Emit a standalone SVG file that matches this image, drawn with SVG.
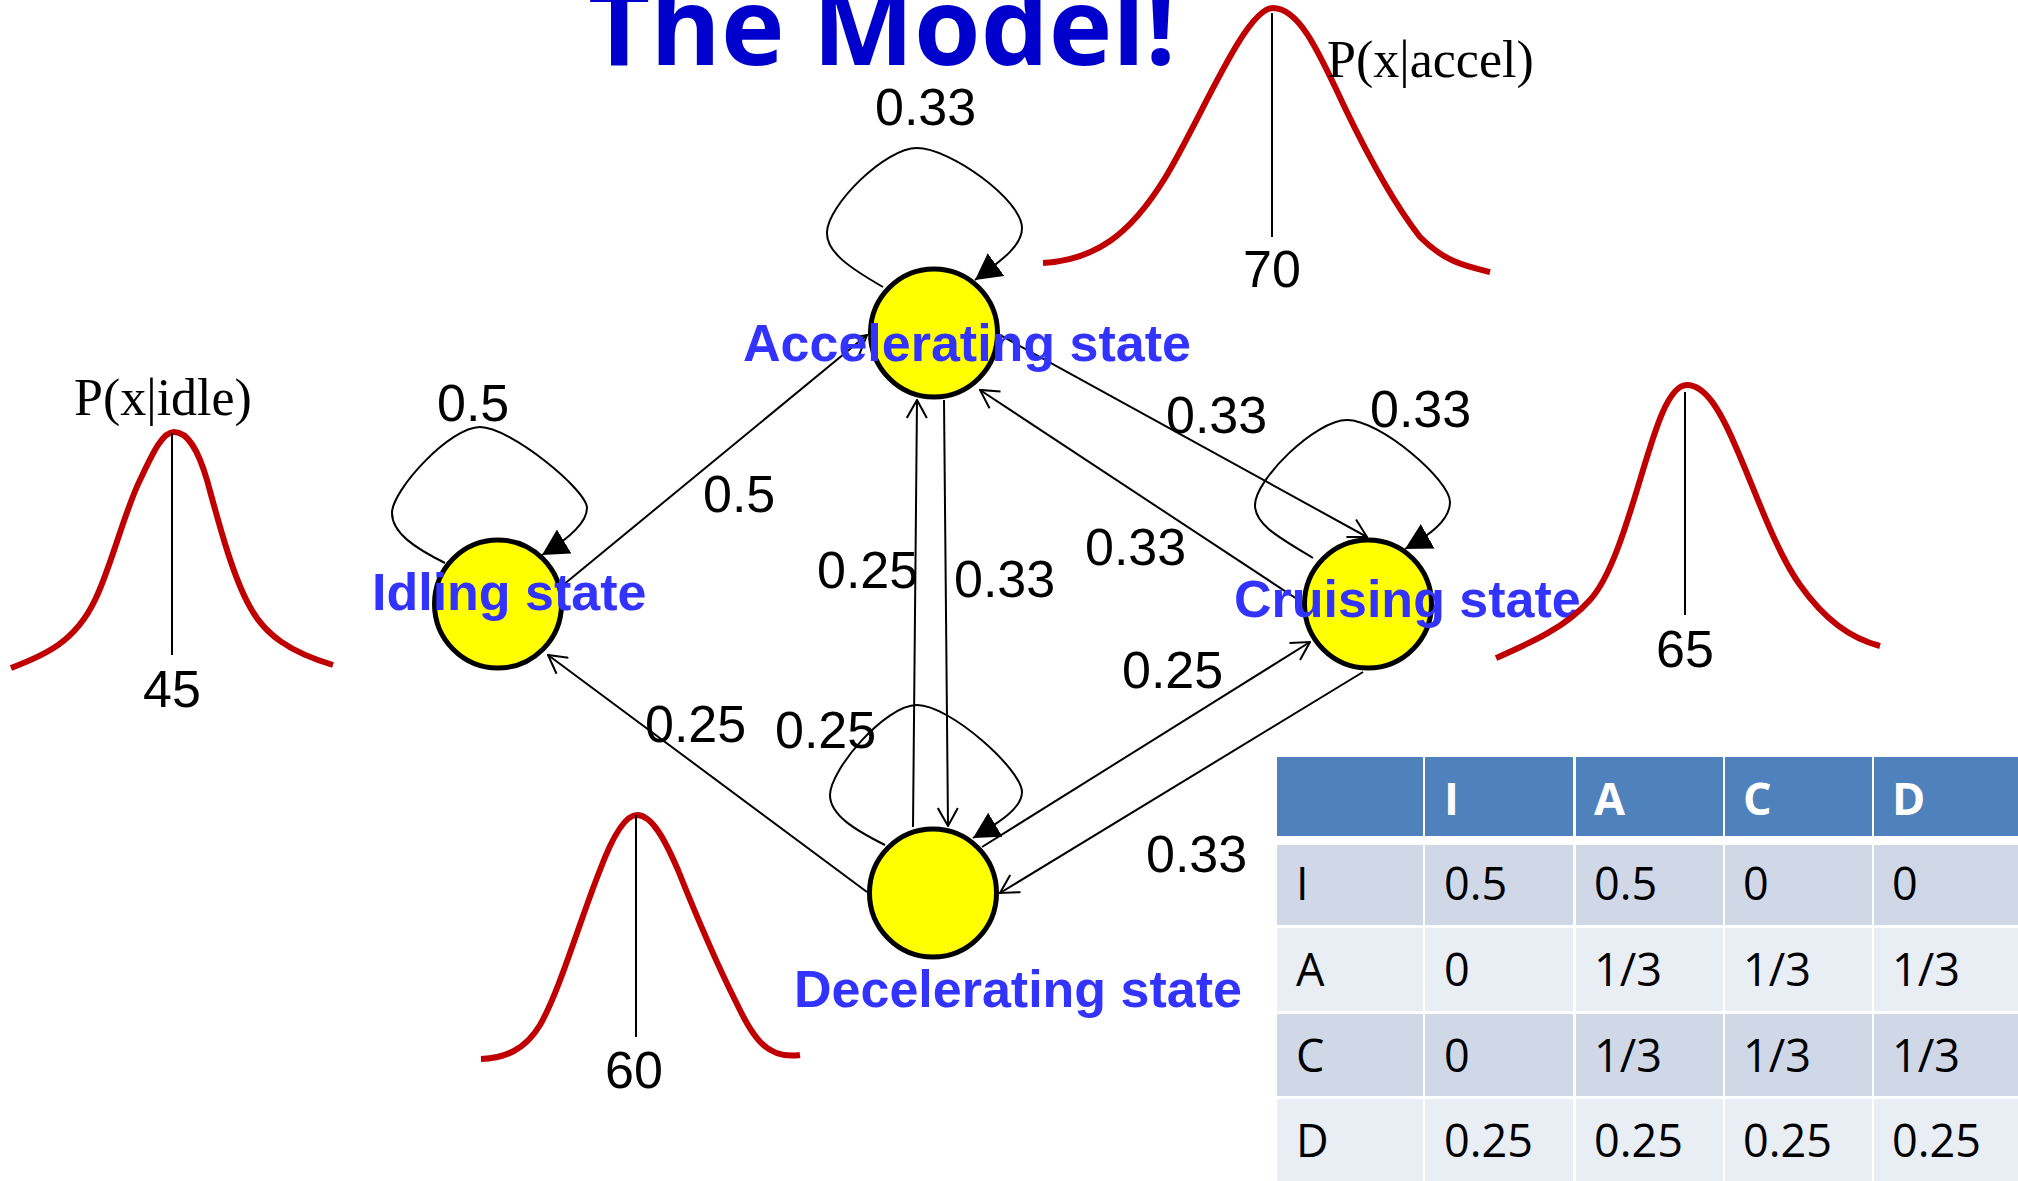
<svg xmlns="http://www.w3.org/2000/svg" width="2018" height="1181" viewBox="0 0 2018 1181">
<style>
.title{font-family:"Open Sans","Liberation Sans",sans-serif;font-weight:700;font-size:108px;fill:#0000CC}
.state{fill:#FFFF00;stroke:#000;stroke-width:5}
.slabel{font-family:"Liberation Sans",Arial,sans-serif;font-weight:700;font-size:52px;fill:#3333FF}
.elabel{font-family:"Liberation Sans",Arial,sans-serif;font-size:52px;fill:#000}
.edge{fill:none;stroke:#000;stroke-width:2}
.gauss{fill:none;stroke:#C00000;stroke-width:6}
.mean{stroke:#000;stroke-width:2}
.pdf{font-family:"Liberation Serif","Times New Roman",serif;font-size:52px;fill:#000}
.num{font-family:"Liberation Sans",Arial,sans-serif;font-size:52px;fill:#000;text-anchor:middle}
.th{fill:#4F81BD}
.r1{fill:#D0D8E8}
.r2{fill:#E9EDF4}
.tht{font-family:"Open Sans","Liberation Sans",sans-serif;font-weight:700;font-size:45px;fill:#fff}
.td{font-family:"Open Sans","Liberation Sans",sans-serif;font-size:45px;fill:#000}
</style>
<defs>
<marker id="open" viewBox="0 0 20 22" refX="19" refY="11" markerWidth="20" markerHeight="22" markerUnits="userSpaceOnUse" orient="auto">
<path d="M1,1 L19,11 L1,21" fill="none" stroke="#000" stroke-width="2"/>
</marker>
<marker id="solid" viewBox="0 0 26 28" refX="26" refY="14" markerWidth="26" markerHeight="28" markerUnits="userSpaceOnUse" orient="auto">
<path d="M0,0 L26,14 L0,28 Z" fill="#000"/>
</marker>
</defs>
<rect width="2018" height="1181" fill="#fff"/>
<text class="title" x="588" y="65" textLength="588" lengthAdjust="spacingAndGlyphs">The Model!</text>

<g id="connectors">
<path class="edge" marker-end="url(#solid)" d="M883,287 C850,268 826,252 827,232 C828,205 885,148 917,148 C950,148 1022,200 1022,228 C1022,245 1005,258 975,280"/>
<path class="edge" marker-end="url(#solid)" d="M445,563 C415,548 392,533 392,513 C392,490 450,427 480,427 C510,427 587,490 587,508 C587,522 570,538 542,555"/>
<path class="edge" marker-end="url(#solid)" d="M1313,558 C1280,538 1255,525 1255,505 C1255,480 1315,420 1347,420 C1380,420 1450,480 1450,502 C1450,520 1430,535 1405,549"/>
<path class="edge" marker-end="url(#solid)" d="M885,845 C855,830 830,815 830,795 C830,770 885,705 917,705 C950,705 1022,770 1022,792 C1022,808 1000,822 973,838"/>
<line class="edge" marker-end="url(#open)" x1="557" y1="590" x2="867" y2="335"/>
<line class="edge" marker-end="url(#open)" x1="1000" y1="335" x2="1367" y2="537"/>
<line class="edge" marker-end="url(#open)" x1="1303" y1="603" x2="980" y2="390"/>
<line class="edge" marker-end="url(#open)" x1="913" y1="827" x2="917" y2="400"/>
<line class="edge" marker-end="url(#open)" x1="944" y1="400" x2="948" y2="826"/>
<line class="edge" marker-end="url(#open)" x1="867" y1="892" x2="548" y2="655"/>
<line class="edge" marker-end="url(#open)" x1="982" y1="847" x2="1310" y2="642"/>
<line class="edge" marker-end="url(#open)" x1="1363" y1="672" x2="1000" y2="893"/>
<g id="edge-labels">
<text class="elabel" x="875" y="125">0.33</text>
<text class="elabel" x="437" y="421">0.5</text>
<text class="elabel" x="703" y="512">0.5</text>
<text class="elabel" x="1166" y="433">0.33</text>
<text class="elabel" x="1370" y="427">0.33</text>
<text class="elabel" x="817" y="588">0.25</text>
<text class="elabel" x="954" y="597">0.33</text>
<text class="elabel" x="1085" y="565">0.33</text>
<text class="elabel" x="1122" y="688">0.25</text>
<text class="elabel" x="645" y="742">0.25</text>
<text class="elabel" x="775" y="748">0.25</text>
<text class="elabel" x="1146" y="872">0.33</text>
</g>
</g>

<g id="node-accelerating">
<ellipse class="state" cx="934" cy="333" rx="63.5" ry="64"/>
<text class="slabel" x="743" y="361">Accelerating state</text>
</g>
<g id="node-idling">
<ellipse class="state" cx="498" cy="604" rx="63.5" ry="64"/>
<text class="slabel" x="372" y="610">Idling state</text>
</g>
<g id="node-cruising">
<ellipse class="state" cx="1368" cy="604" rx="63.5" ry="64"/>
<text class="slabel" x="1234" y="617">Cruising state</text>
</g>
<g id="node-decelerating">
<ellipse class="state" cx="933" cy="893" rx="63.5" ry="64"/>
<text class="slabel" x="794" y="1007">Decelerating state</text>
</g>

<g id="emission-accel">
<path class="gauss" d="M1043,263 C1095,260 1130,235 1165,178 C1200,121 1245,8 1273,8 C1300,8 1320,55 1345,108 C1370,160 1395,205 1420,237 C1445,262 1465,266 1490,272"/>
<line class="mean" x1="1272" y1="13" x2="1272" y2="237"/>
<text class="num" x="1272" y="287">70</text>
<text class="pdf" x="1327" y="77">P(x|accel)</text>
</g>
<g id="emission-idle">
<path class="gauss" d="M11,668 C45,655 75,642 95,600 C110,570 125,510 140,480 C152,455 162,432 174,432 C188,432 198,450 207,480 C218,520 232,575 250,607 C265,635 290,652 333,665"/>
<line class="mean" x1="172" y1="433" x2="172" y2="655"/>
<text class="num" x="172" y="707">45</text>
<text class="pdf" x="74" y="415">P(x|idle)</text>
</g>
<g id="emission-cruise">
<path class="gauss" d="M1496,658 C1530,643 1565,628 1590,600 C1610,578 1625,530 1640,480 C1655,430 1668,385 1687,385 C1705,385 1720,410 1735,445 C1755,490 1775,550 1800,585 C1825,620 1850,638 1880,646"/>
<line class="mean" x1="1685" y1="392" x2="1685" y2="615"/>
<text class="num" x="1685" y="667">65</text>
</g>
<g id="emission-decel">
<path class="gauss" d="M481,1059 C505,1058 525,1050 540,1025 C560,990 580,920 600,870 C612,838 625,815 637,815 C652,815 665,840 678,870 C692,905 715,960 735,1000 C752,1035 765,1060 800,1055"/>
<line class="mean" x1="636" y1="815" x2="636" y2="1037"/>
<text class="num" x="634" y="1088">60</text>
</g>

<g id="transition-table">
<rect class="th" x="1277" y="757" width="146" height="79"/>
<rect class="th" x="1425" y="757" width="148" height="79"/>
<rect class="th" x="1576" y="757" width="147" height="79"/>
<rect class="th" x="1725" y="757" width="147" height="79"/>
<rect class="th" x="1874" y="757" width="150" height="79"/>
<rect class="r1" x="1277" y="845" width="146" height="80"/>
<rect class="r1" x="1425" y="845" width="148" height="80"/>
<rect class="r1" x="1576" y="845" width="147" height="80"/>
<rect class="r1" x="1725" y="845" width="147" height="80"/>
<rect class="r1" x="1874" y="845" width="150" height="80"/>
<rect class="r2" x="1277" y="928" width="146" height="83"/>
<rect class="r2" x="1425" y="928" width="148" height="83"/>
<rect class="r2" x="1576" y="928" width="147" height="83"/>
<rect class="r2" x="1725" y="928" width="147" height="83"/>
<rect class="r2" x="1874" y="928" width="150" height="83"/>
<rect class="r1" x="1277" y="1014" width="146" height="82"/>
<rect class="r1" x="1425" y="1014" width="148" height="82"/>
<rect class="r1" x="1576" y="1014" width="147" height="82"/>
<rect class="r1" x="1725" y="1014" width="147" height="82"/>
<rect class="r1" x="1874" y="1014" width="150" height="82"/>
<rect class="r2" x="1277" y="1099" width="146" height="90"/>
<rect class="r2" x="1425" y="1099" width="148" height="90"/>
<rect class="r2" x="1576" y="1099" width="147" height="90"/>
<rect class="r2" x="1725" y="1099" width="147" height="90"/>
<rect class="r2" x="1874" y="1099" width="150" height="90"/>
<text class="tht" x="1444" y="815">I</text>
<text class="tht" x="1594" y="815">A</text>
<text class="tht" x="1743" y="815">C</text>
<text class="tht" x="1892" y="815">D</text>
<text class="td" x="1296" y="900">I</text>
<text class="td" x="1444" y="900">0.5</text>
<text class="td" x="1594" y="900">0.5</text>
<text class="td" x="1743" y="900">0</text>
<text class="td" x="1892" y="900">0</text>
<text class="td" x="1296" y="986">A</text>
<text class="td" x="1444" y="986">0</text>
<text class="td" x="1594" y="986">1/3</text>
<text class="td" x="1743" y="986">1/3</text>
<text class="td" x="1892" y="986">1/3</text>
<text class="td" x="1296" y="1072">C</text>
<text class="td" x="1444" y="1072">0</text>
<text class="td" x="1594" y="1072">1/3</text>
<text class="td" x="1743" y="1072">1/3</text>
<text class="td" x="1892" y="1072">1/3</text>
<text class="td" x="1296" y="1157">D</text>
<text class="td" x="1444" y="1157">0.25</text>
<text class="td" x="1594" y="1157">0.25</text>
<text class="td" x="1743" y="1157">0.25</text>
<text class="td" x="1892" y="1157">0.25</text>
</g>
</svg>
